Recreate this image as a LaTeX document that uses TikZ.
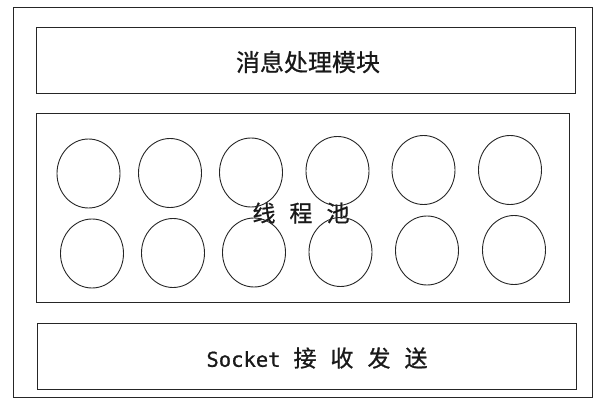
\documentclass[tikz,border=0pt]{standalone}
\usepackage{fontspec}
\usetikzlibrary{shapes.geometric}
\newfontfamily\cjk[FakeBold=0.8]{Noto Sans CJK SC}
\newfontfamily\monofnt[FakeBold=0.8]{DejaVu Sans Mono}
\definecolor{inkc}{HTML}{262626}
\tikzset{
  frame/.style={draw=inkc, line width=1pt, rectangle, inner sep=0pt},
  thread/.style={draw=inkc, line width=0.9pt, ellipse, minimum width=63pt, minimum height=69pt, inner sep=0pt},
  lbl/.style={text=black!90, inner sep=0pt, font=\cjk\fontsize{23}{25}\selectfont}
}
\begin{document}
\begin{tikzpicture}[x=1pt, y=-1pt]
\useasboundingbox (0,0) rectangle (598,399);
\node[frame, minimum width=579pt, minimum height=390pt] (outer) at (302.5,202) {};
\node[frame, minimum width=539pt, minimum height=66pt] (msg) at (305.5,60) {};
\node[frame, minimum width=533pt, minimum height=189pt] (pool) at (302.5,207.5) {};
\node[frame, minimum width=539pt, minimum height=66pt] (sock) at (306.5,356) {};
\node[lbl, font=\cjk\fontsize{24}{26}\selectfont] (msgtxt) at (308,62) {消息处理模块};
\node[lbl] (pooltxt) at (301,213) {线\hspace{14pt}程\hspace{14pt}池};
\node[lbl] (socktxt) at (317,358) {{\monofnt\fontsize{20.5}{22}\selectfont Socket}\hspace{13pt}接\hspace{14pt}收\hspace{14pt}发\hspace{14pt}送};
\node[thread] (t1) at (88.5,173.5) {};
\node[thread] (t2) at (170,173) {};
\node[thread] (t3) at (251,172.5) {};
\node[thread] (t4) at (337.5,171) {};
\node[thread] (t5) at (423.5,170) {};
\node[thread] (t6) at (510,170) {};
\node[thread] (b1) at (92,253.5) {};
\node[thread] (b2) at (173,253) {};
\node[thread] (b3) at (254,252.5) {};
\node[thread] (b4) at (340.5,252) {};
\node[thread] (b5) at (427,250.5) {};
\node[thread] (b6) at (514,250) {};
\end{tikzpicture}
\end{document}
